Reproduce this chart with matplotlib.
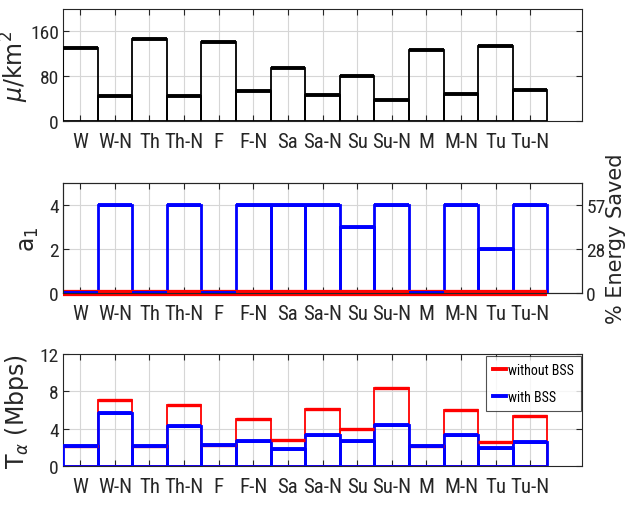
import numpy as np
import matplotlib
matplotlib.use("Agg")
from matplotlib import pyplot as plt, font_manager

days = ["W", "W-N", "Th", "Th-N", "F", "F-N", "Sa", "Sa-N",
        "Su", "Su-N", "M", "M-N", "Tu", "Tu-N"]

# user density per slot
density = [131, 44, 147, 44, 142, 53, 94, 46, 80, 37, 126, 48, 134, 55]

# number of BSs switched off (a_1), without / with BSS
a1_without = [0] * 14
a1_with = [0, 4, 0, 4, 0, 4, 4, 4, 3, 4, 0, 4, 2, 4]

# throughput in Mbps
thr_without = [2.2, 7.1, 2.2, 6.5, 2.3, 5.0, 2.8, 6.1, 3.95, 8.35, 2.1, 6.0, 2.6, 5.4]
thr_with = [2.2, 5.7, 2.2, 4.3, 2.3, 2.7, 1.85, 3.3, 2.65, 4.4, 2.1, 3.3, 1.9, 2.6]

energy_ticks = [0, 200 / 7, 400 / 7]
energy_labels = ["0", "28", "57"]

installed = {f.name for f in font_manager.fontManager.ttflist}
narrow = next((n for n in ["Liberation Sans Narrow", "Roboto Condensed",
                           "DejaVu Sans Condensed"] if n in installed),
              "Liberation Sans")

AX_COL = "#262626"
GRID_COL = "#d6d6d6"
YTICK_SIZE = 14


def steps(ax, vals, color, lw_side, lw_top, z=3, clip=True):
    # open-topped bars: thin sides, thick top edge
    x = np.arange(1, len(vals) + 1)
    ax.bar(x, vals, width=1.0, fill=False, edgecolor=color, linewidth=lw_side, zorder=z)
    ax.hlines(vals, x - 0.5, x + 0.5, colors=color, linewidth=lw_top, zorder=z + 2,
              clip_on=clip)


def style(ax, ymax, yticks):
    x = np.arange(1, len(days) + 1)
    ax.set_xlim(0.5, 15.5)
    ax.set_ylim(0, ymax)
    ax.set_xticks(x)
    ax.set_xticklabels(days, fontfamily=narrow, fontsize=15, color=AX_COL)
    ax.set_yticks(yticks)
    for lab in ax.get_yticklabels():
        lab.set_fontfamily(narrow)
        lab.set_fontsize(YTICK_SIZE)
        lab.set_color(AX_COL)
    ax.tick_params(direction="in", length=4, width=0.8, colors=AX_COL, top=True)
    ax.tick_params(axis="x", pad=8)
    ax.tick_params(axis="y", pad=3)
    ax.grid(True, color=GRID_COL, linewidth=0.8)
    ax.set_axisbelow(True)
    for s in ax.spines.values():
        s.set_color(AX_COL)
        s.set_linewidth(0.8)


fig = plt.figure(figsize=(6.33, 5.06), dpi=100)
left, width = 0.0995, 0.820
ax1 = fig.add_axes([left, 0.759, width, 0.221])
ax2 = fig.add_axes([left, 0.419, width, 0.217])
ax3 = fig.add_axes([left, 0.077, width, 0.221])

# density
style(ax1, 200, [0, 80, 160])
ax1.tick_params(right=True)
steps(ax1, density, "black", 1.3, 2.8)
ax1.set_ylabel(r"$\mu$/km$^2$", fontsize=17, color=AX_COL)
ax1.yaxis.set_label_coords(-0.062, 0.5)

# a_1 and energy saved
style(ax2, 5, [0, 2, 4])
steps(ax2, a1_with, "blue", 2.0, 2.8, z=3)
ax2.hlines(a1_without, np.arange(1, 15) - 0.5, np.arange(1, 15) + 0.5,
           colors="red", linewidth=4.5, zorder=4, clip_on=False)
ax2.set_ylabel(r"a$_1$", fontsize=17, color=AX_COL)
ax2.yaxis.set_label_coords(-0.042, 0.5)

ax2r = ax2.twinx()
ax2r.set_ylim(0, 500 / 7)
ax2r.set_yticks(energy_ticks)
ax2r.set_yticklabels(energy_labels, fontfamily=narrow, fontsize=YTICK_SIZE, color=AX_COL)
ax2r.tick_params(direction="in", length=4, width=0.8, colors=AX_COL, pad=3)
for s in ax2r.spines.values():
    s.set_color(AX_COL)
    s.set_linewidth(0.8)
ax2r.set_ylabel("% Energy Saved", fontsize=15, color=AX_COL)
ax2r.yaxis.set_label_coords(1.046, 0.5)

# throughput
style(ax3, 12, [0, 4, 8, 12])
ax3.tick_params(right=True)
steps(ax3, thr_without, "red", 1.3, 2.4)
steps(ax3, thr_with, "blue", 2.0, 2.8, z=4)
ax3.plot([], [], color="red", linewidth=2.8, label="without BSS")
ax3.plot([], [], color="blue", linewidth=2.8, label="with BSS")
leg = ax3.legend(loc="upper right", prop={"family": narrow, "size": 10},
                 frameon=True, fancybox=False, edgecolor=AX_COL, borderaxespad=0.1,
                 handlelength=0.9, handletextpad=0.15, borderpad=0.5, labelspacing=0.95)
leg.get_frame().set_linewidth(0.8)
ax3.set_ylabel(r"T$_\alpha$ (Mbps)", fontsize=17, color=AX_COL)
ax3.yaxis.set_label_coords(-0.062, 0.5)

fig.savefig("out.png", dpi=100)
